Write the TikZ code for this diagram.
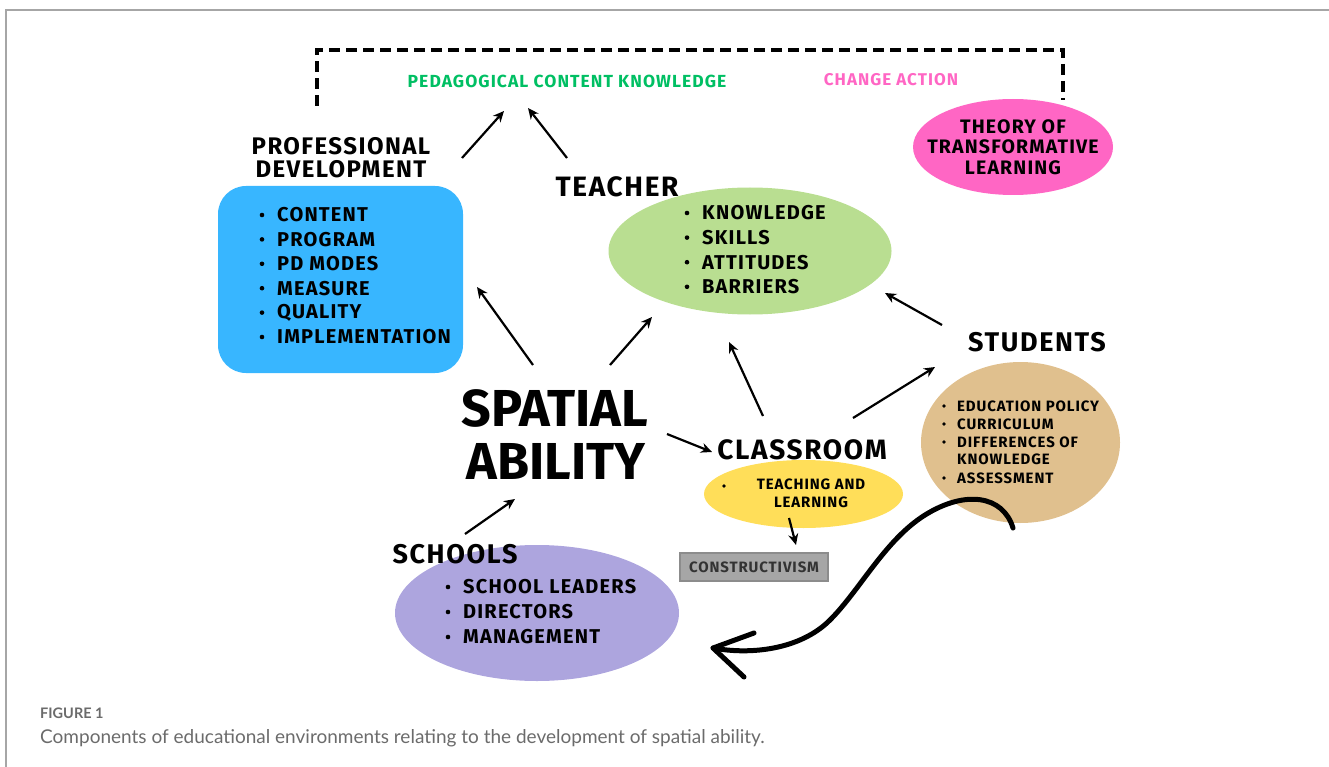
\documentclass[tikz,border=0pt]{standalone}
\usepackage{fontspec}
\setmainfont{Fira Sans}[LetterSpace=6]
\newfontfamily\capfont{Lato}
\usetikzlibrary{shapes.geometric,arrows.meta}

\definecolor{pdblue}{HTML}{38B6FF}
\definecolor{teachgreen}{HTML}{B9DE91}
\definecolor{theorypink}{HTML}{FF66C4}
\definecolor{studtan}{HTML}{E0C08E}
\definecolor{classyellow}{HTML}{FFDE59}
\definecolor{schoolpurple}{HTML}{ADA5DE}
\definecolor{pckgreen}{HTML}{00BF63}
\definecolor{boxgray}{HTML}{A6A6A6}
\definecolor{capgray}{HTML}{6B6B6B}

\begin{document}
\begin{tikzpicture}[x=1pt,y=-1pt,
  blob/.style={ellipse,inner sep=0pt},
  head/.style={font=\fontsize{26}{28}\selectfont\bfseries,align=center,inner sep=0pt},
  big/.style={font=\fontsize{52}{52}\selectfont\bfseries\addfontfeature{LetterSpace=0},inner sep=0pt},
  item/.style={font=\fontsize{20}{24}\selectfont\bfseries,anchor=west,inner sep=0pt},
  small/.style={font=\fontsize{15}{18}\selectfont\bfseries,inner sep=0pt},
  arr/.style={-{Stealth[length=11pt,width=10pt]},line width=2.2pt},
  bracket/.style={dashed,dash pattern=on 11pt off 6pt,line width=3.2pt},
  frame/.style={draw=gray!70,line width=1.2pt}]
\useasboundingbox (0,0) rectangle (1329,767);

% Frame of the figure, open to the right and below
\draw[frame] (1329,10) -- (6,10) -- (6,767);

% Coloured shapes
\node[rectangle,rounded corners=28pt,fill=pdblue,minimum width=245pt,minimum height=187pt] (pdbox) at (340.5,279.5) {};
\node[blob,fill=teachgreen,minimum width=283pt,minimum height=127pt] (teach) at (750,251) {};
\node[blob,fill=theorypink,minimum width=200pt,minimum height=96pt] (theory) at (1013,147) {};
\node[blob,fill=studtan,minimum width=199pt,minimum height=161pt] (stud) at (1020.5,442.5) {};
\node[blob,fill=classyellow,minimum width=199pt,minimum height=68pt] (class) at (803.5,494) {};
\node[blob,fill=schoolpurple,minimum width=284pt,minimum height=136pt] (school) at (537,613) {};
\node[rectangle,fill=boxgray,draw=gray!90,line width=1.5pt,minimum width=148pt,minimum height=28pt,
  font=\fontsize{15}{18}\selectfont\bfseries,text=black!80] (constr) at (754,567) {CONSTRUCTIVISM};

% Dashed bracket between the two theories
\coordinate (brl) at (317,106);
\coordinate (brr) at (1063,100);
\draw[bracket] (brl) -- (317,50) -- (1063,50) -- (brr);

% Top labels
\node[font=\fontsize{17.5}{20}\selectfont\bfseries,text=pckgreen] (pck) at (567,81) {PEDAGOGICAL CONTENT KNOWLEDGE};
\node[font=\fontsize{17}{20}\selectfont\bfseries,text=theorypink] (change) at (891,80) {CHANGE ACTION};
\node[font=\fontsize{19.5}{20.5}\selectfont\bfseries,align=center] (theorytxt) at (1013,147) {THEORY OF\\TRANSFORMATIVE\\LEARNING};

% Headings
\node[head,font=\fontsize{24}{23}\selectfont\bfseries] (pdhead) at (341,158) {PROFESSIONAL\\DEVELOPMENT};
\node[head,font=\fontsize{28}{28}\selectfont\bfseries] (teachhead) at (617,187) {TEACHER};
\node[head,font=\fontsize{27}{28}\selectfont\bfseries] (studhead) at (1037,342) {STUDENTS};
\node[head,font=\fontsize{28}{28}\selectfont\bfseries] (classhead) at (802,450) {CLASSROOM};
\node[head,font=\fontsize{27}{28}\selectfont\bfseries] (schoolhead) at (455,554) {SCHOOLS};
\node[big] (spatial) at (555,408) {SPATIAL};
\node[big] (ability) at (556,461) {ABILITY};

% Bullet lists
\foreach \t [count=\i] in {CONTENT,PROGRAM,PD MODES,MEASURE,QUALITY,IMPLEMENTATION}{
  \fill (262,{215+24.4*(\i-1)}) circle (2.3pt);
  \node[item] (pd\i) at (277,{215+24.4*(\i-1)}) {\t};
}
\foreach \t [count=\i] in {KNOWLEDGE,SKILLS,ATTITUDES,BARRIERS}{
  \fill (687,{213+24.6*(\i-1)}) circle (2.3pt);
  \node[item] (teach\i) at (702,{213+24.6*(\i-1)}) {\t};
}
\foreach \t [count=\i] in {SCHOOL LEADERS,DIRECTORS,MANAGEMENT}{
  \fill (448,{587+25*(\i-1)}) circle (2.3pt);
  \node[item] (school\i) at (463,{587+25*(\i-1)}) {\t};
}
\foreach \y/\t [count=\i] in {406/EDUCATION POLICY,424/CURRICULUM,442/DIFFERENCES OF,478/ASSESSMENT}{
  \fill (944,\y) circle (1.8pt);
  \node[small,anchor=west] (stud\i) at (957,\y) {\t};
}
\node[small,anchor=west] (stud5) at (957,459) {KNOWLEDGE};
\fill (724,486) circle (1.8pt);
\node[small,align=center] (classtxt) at (811,493) {TEACHING AND\\LEARNING};

% Arrows between the parts
\coordinate (a1) at (462,158); \coordinate (b1) at (504,111);
\coordinate (a2) at (567,158); \coordinate (b2) at (528,108);
\coordinate (a3) at (533,365); \coordinate (b3) at (477,287);
\coordinate (a4) at (610,365); \coordinate (b4) at (652,317);
\coordinate (a5) at (942,325); \coordinate (b5) at (885,293);
\coordinate (a6) at (763,416); \coordinate (b6) at (729,342);
\coordinate (a7) at (853,418); \coordinate (b7) at (935,367);
\coordinate (a8) at (667,434); \coordinate (b8) at (712,452);
\coordinate (a9) at (465,534); \coordinate (b9) at (515,499);
\coordinate (a10) at (789,518); \coordinate (b10) at (796,545);
\foreach \i in {1,...,10}
  \draw[arr] (a\i) -- (b\i);

% Curved arrow from the students back to the schools
\coordinate (loopstart) at (1013,528);
\coordinate (looptip) at (713,648);
\draw[line width=5pt,line cap=round,line join=round]
  (loopstart) .. controls (1003,495) and (965,490) .. (925,515)
  .. controls (885,540) and (860,590) .. (830,620)
  .. controls (800,650) and (750,655) .. (looptip);
\draw[line width=5pt,line cap=round,line join=round] (754,633) -- (looptip) -- (744,677);

% Caption
\node[font=\capfont\bfseries\fontsize{14.5}{16}\selectfont,text=capgray,anchor=west,inner sep=0pt] (fig) at (40,713) {FIGURE 1};
\node[font=\capfont\fontsize{19}{22}\selectfont,text=capgray,anchor=west,inner sep=0pt] (caption) at (40,738)
  {Components of educational environments relating to the development of spatial ability.};
\end{tikzpicture}
\end{document}
